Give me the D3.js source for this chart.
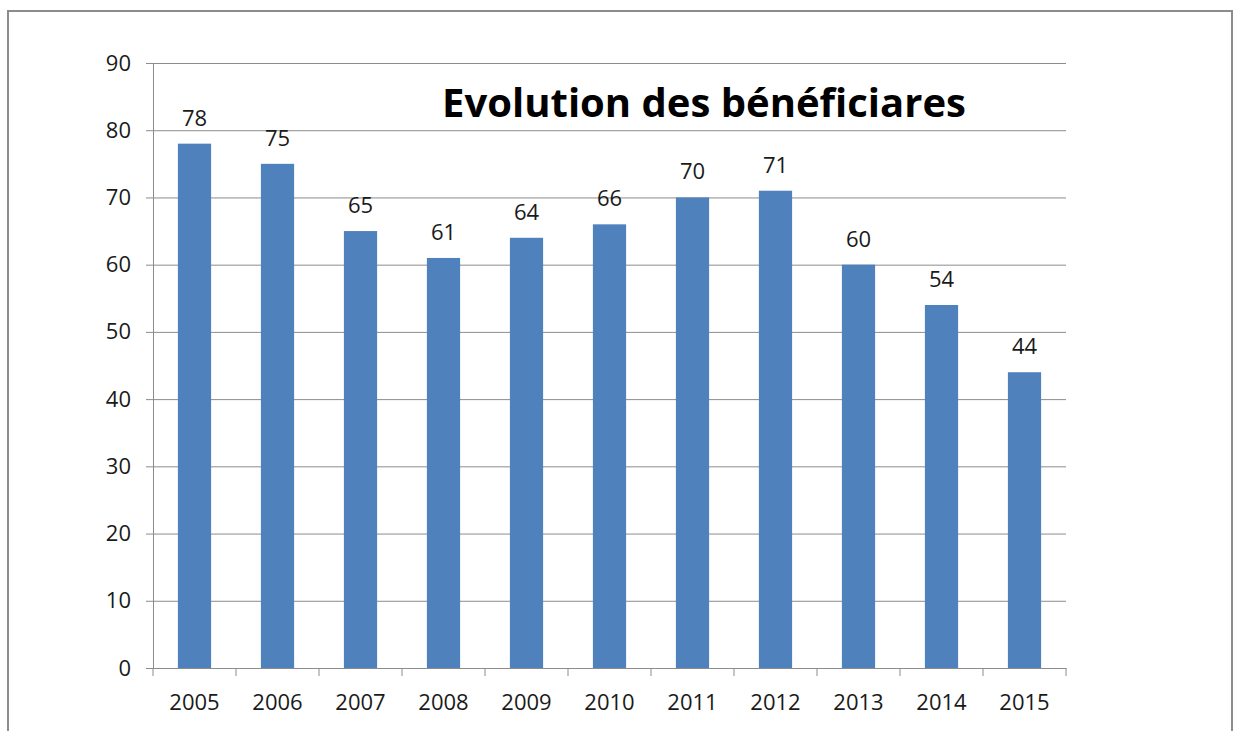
<html>
<head>
    <style>
        body {margin:0; background:white;}
        svg text {fill:#1a1a1a; font-family:'Open Sans', 'Noto Sans', sans-serif;}
    </style>
    <script src="https://d3js.org/d3.v7.min.js"></script>
</head>
<body>
    <script>
        // chart data
        var years = ["2005","2006","2007","2008","2009","2010","2011","2012","2013","2014","2015"];
        var beneficiaires = [78, 75, 65, 61, 64, 66, 70, 71, 60, 54, 44];
        var yTicks = [0, 10, 20, 30, 40, 50, 60, 70, 80, 90];
        var title = "Evolution des bénéficiares";

        var svg_width = 1243;
        var svg_height = 731;

        // plot area edges
        var pLeft = 153, pRight = 1066, pTop = 63, pBottom = 668;
        var gridColor = "#8c8c8c";

        var svg = d3.select("body").append("svg")
            .attr("width", svg_width)
            .attr("height", svg_height)
            .style("display", "block");

        // outer frame
        svg.append("rect")
            .attr("x", 8).attr("y", 11)
            .attr("width", 1224).attr("height", 740)
            .attr("fill", "white")
            .attr("stroke", gridColor)
            .attr("stroke-width", 2);

        var x = d3.scaleBand()
            .domain(years)
            .range([pLeft, pRight])
            .paddingInner(0.6)
            .paddingOuter(0.3);

        var xCat = d3.scaleBand().domain(years).range([pLeft, pRight]);

        var y = d3.scaleLinear()
            .domain([0, 90])
            .range([pBottom, pTop]);

        // gridlines + y axis
        var yAxis = svg.append("g")
            .attr("transform", `translate(${pLeft},0)`)
            .call(d3.axisLeft(y).tickValues(yTicks).tickSize(7).tickPadding(15));
        yAxis.select(".domain").attr("stroke", gridColor);
        yAxis.selectAll(".tick line").attr("stroke", gridColor);
        yAxis.selectAll(".tick text")
            .style("font-size", "22px");
        yAxis.selectAll(".tick")
            .append("line")
            .attr("x1", 0).attr("x2", pRight - pLeft)
            .attr("stroke", gridColor);

        // bars
        svg.append("g")
            .selectAll("rect")
            .data(beneficiaires)
            .join("rect")
            .attr("x", (d, i) => x(years[i]))
            .attr("width", x.bandwidth())
            .attr("y", d => y(d))
            .attr("height", d => y(0) - y(d))
            .attr("fill", "#4f81bd");

        // value labels
        svg.append("g")
            .selectAll("text")
            .data(beneficiaires)
            .join("text")
            .attr("x", (d, i) => x(years[i]) + x.bandwidth() / 2)
            .attr("y", d => y(d) - 18)
            .attr("text-anchor", "middle")
            .style("font-size", "22px")
            .text(d => d);

        // x axis
        var xAxis = svg.append("g")
            .attr("transform", `translate(0,${pBottom})`)
            .call(d3.axisBottom(xCat).tickSize(0).tickPadding(26));
        xAxis.select(".domain").attr("stroke", gridColor);
        xAxis.selectAll(".tick text")
            .style("font-size", "22px");
        svg.append("g")
            .selectAll("line")
            .data(d3.range(years.length + 1))
            .join("line")
            .attr("x1", i => pLeft + i * xCat.step())
            .attr("x2", i => pLeft + i * xCat.step())
            .attr("y1", pBottom)
            .attr("y2", pBottom + 8)
            .attr("stroke", gridColor);

        // title
        svg.append("text")
            .attr("x", 704)
            .attr("y", 117)
            .attr("text-anchor", "middle")
            .style("font-size", "40px")
            .style("font-weight", "bold")
            .style("fill", "black")
            .text(title);
    </script>
</body>
</html>
